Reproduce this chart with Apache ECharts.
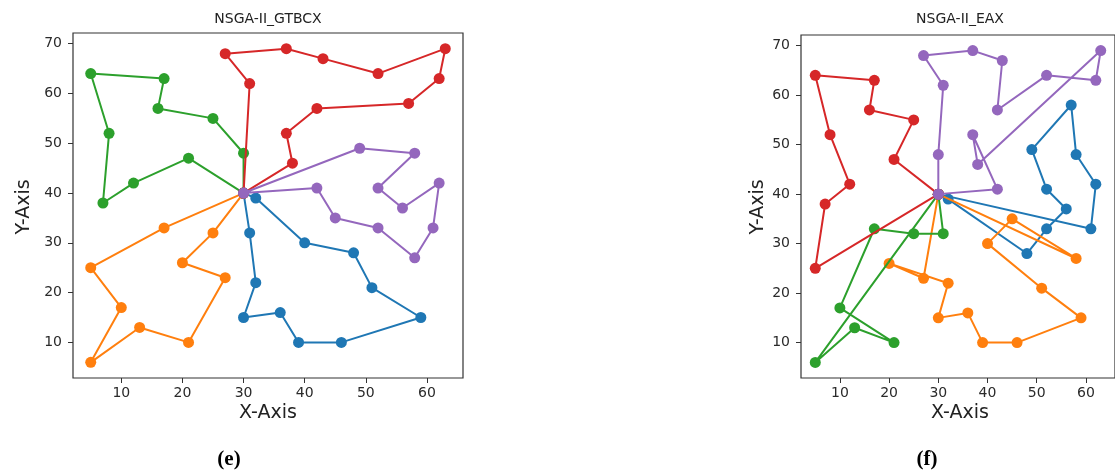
<!DOCTYPE html>
<html>
<head>
<meta charset="utf-8">
<script src="https://cdn.jsdelivr.net/npm/echarts@6/dist/echarts.min.js"></script>
<style>
html,body{margin:0;padding:0;background:#fff;}
#chart{width:1115px;height:474px;}
</style>
</head>
<body>
<div id="chart"></div>
<script>
// ---- data (node coordinates visited by each route) ----
const xTicks = [10, 20, 30, 40, 50, 60];
const yTicks = [10, 20, 30, 40, 50, 60, 70];

const gtbcxBlue   = [[30,40],[32,39],[40,30],[48,28],[51,21],[59,15],[46,10],[39,10],[36,16],[30,15],[32,22],[31,32],[30,40]];
const gtbcxOrange = [[30,40],[17,33],[5,25],[10,17],[5,6],[13,13],[21,10],[27,23],[20,26],[25,32],[30,40]];
const gtbcxGreen  = [[30,40],[21,47],[12,42],[7,38],[8,52],[5,64],[17,63],[16,57],[25,55],[30,48],[30,40]];
const gtbcxRed    = [[30,40],[38,46],[37,52],[42,57],[57,58],[62,63],[63,69],[52,64],[43,67],[37,69],[27,68],[31,62],[30,40]];
const gtbcxPurple = [[30,40],[49,49],[58,48],[52,41],[56,37],[62,42],[61,33],[58,27],[52,33],[45,35],[42,41],[30,40]];

const eaxBlue   = [[30,40],[32,39],[48,28],[52,33],[56,37],[52,41],[49,49],[57,58],[58,48],[62,42],[61,33],[30,40]];
const eaxOrange = [[30,40],[58,27],[45,35],[40,30],[51,21],[59,15],[46,10],[39,10],[36,16],[30,15],[32,22],[20,26],[27,23],[30,40]];
const eaxGreen  = [[30,40],[31,32],[25,32],[17,33],[10,17],[21,10],[13,13],[5,6],[30,40]];
const eaxRed    = [[30,40],[21,47],[25,55],[16,57],[17,63],[5,64],[8,52],[12,42],[7,38],[5,25],[30,40]];
const eaxPurple = [[30,40],[30,48],[31,62],[27,68],[37,69],[43,67],[42,57],[52,64],[62,63],[63,69],[38,46],[37,52],[42,41],[30,40]];

const titles = ['NSGA-II_GTBCX', 'NSGA-II_EAX'];
const captions = ['(e)', '(f)'];

// ---- styling ----
const colors = ['#1f77b4', '#ff7f0e', '#2ca02c', '#d62728', '#9467bd'];
const FONT = 'DejaVu Sans';
const panels = [
  {routes: [gtbcxBlue, gtbcxOrange, gtbcxGreen, gtbcxRed, gtbcxPurple], grid: {left: 73, top: 33, width: 390, height: 345},
   titleX: 268, xNameX: 268, yNameX: 24, capX: 229},
  {routes: [eaxBlue, eaxOrange, eaxGreen, eaxRed, eaxPurple], grid: {left: 801, top: 35, width: 319, height: 343},
   titleX: 960, xNameX: 960, yNameX: 758, capX: 927}
];

const grids = [], xAxes = [], yAxes = [], series = [], graphics = [];
panels.forEach((p, i) => {
  grids.push(Object.assign({show: true, borderColor: '#333', borderWidth: 1.2, backgroundColor: 'transparent'}, p.grid));
  xAxes.push({
    type: 'value', gridIndex: i, min: 2.1, max: 65.9,
    axisLine: {show: false},
    splitLine: {show: false},
    axisTick: {show: true, inside: false, length: 5, customValues: xTicks, lineStyle: {color: '#333'}},
    axisLabel: {show: true, customValues: xTicks, margin: 8, color: '#2a2a2a', fontFamily: FONT, fontSize: 14}
  });
  yAxes.push({
    type: 'value', gridIndex: i, min: 2.85, max: 72.15,
    axisLine: {show: false},
    splitLine: {show: false},
    axisTick: {show: true, inside: false, length: 5, customValues: yTicks, lineStyle: {color: '#333'}},
    axisLabel: {show: true, customValues: yTicks, margin: 11, color: '#2a2a2a', fontFamily: FONT, fontSize: 14}
  });
  p.routes.forEach((r, k) => {
    series.push({
      type: 'line', xAxisIndex: i, yAxisIndex: i, data: r,
      symbol: 'circle', symbolSize: 11, showAllSymbol: true,
      lineStyle: {color: colors[k], width: 2},
      itemStyle: {color: colors[k], borderWidth: 0},
      z: 2 + k, animation: false, silent: true
    });
  });
  graphics.push({type: 'text', x: p.titleX, y: 19,
    style: {text: titles[i], align: 'center', verticalAlign: 'middle', font: '14px "DejaVu Sans"', fill: '#222'}});
  graphics.push({type: 'text', x: p.xNameX, y: 413,
    style: {text: 'X-Axis', align: 'center', verticalAlign: 'middle', font: '19px "DejaVu Sans"', fill: '#222'}});
  graphics.push({type: 'text', rotation: Math.PI / 2, x: p.yNameX, y: 207,
    style: {text: 'Y-Axis', align: 'center', verticalAlign: 'middle', font: '19px "DejaVu Sans"', fill: '#222'}});
  graphics.push({type: 'text', x: p.capX, y: 460,
    style: {text: captions[i], align: 'center', verticalAlign: 'middle', font: 'bold 21px "Liberation Serif"', fill: '#000'}});
});

const chart = echarts.init(document.getElementById('chart'), null, {renderer: 'canvas'});
chart.setOption({
  animation: false,
  backgroundColor: '#fff',
  grid: grids, xAxis: xAxes, yAxis: yAxes, series: series,
  graphic: {elements: graphics}
});
</script>
</body>
</html>
